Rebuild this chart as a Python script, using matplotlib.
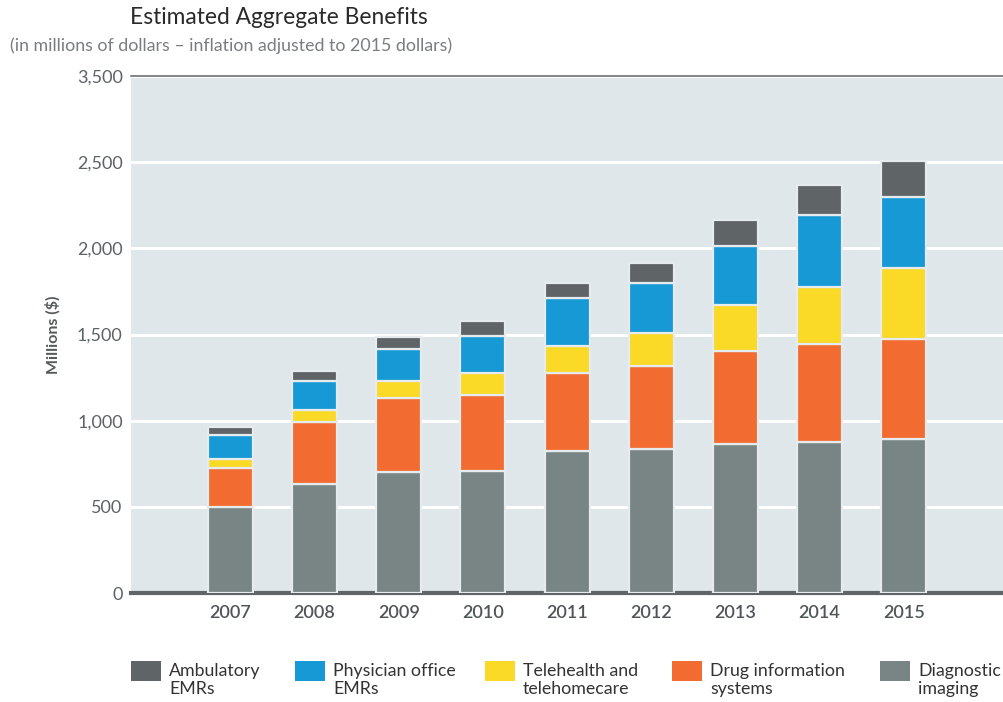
import matplotlib
matplotlib.use('Agg')
import matplotlib.pyplot as plt
from matplotlib.patches import Rectangle
import numpy as np

plt.rcParams['font.family'] = ['Lato', 'DejaVu Sans']

years = ['2007', '2008', '2009', '2010', '2011', '2012', '2013', '2014', '2015']
diagnostic = [500, 632, 700, 710, 826, 837, 864, 876, 894]
drug_info = [225, 358, 430, 441, 451, 481, 543, 570, 581]
telehealth = [52, 74, 101, 126, 155, 188, 266, 331, 413]
physician = [138, 165, 186, 217, 277, 292, 343, 415, 409]
ambulatory = [48, 62, 66, 87, 88, 115, 147, 174, 207]

series_names = ['Diagnostic\nimaging', 'Drug information\nsystems', 'Telehealth and\ntelehomecare',
                'Physician office\nEMRs', 'Ambulatory\nEMRs']
colors = ['#798584', '#f26b30', '#fbd927', '#1799d6', '#5f6466']

# y tick positions and the labels as printed on the original (no 3,000 label)
ytick_pos = [0, 500, 1000, 1500, 2000, 2500, 3000]
ytick_lab = ['0', '500', '1,000', '1,500', '2,000', '2,500', '3,500']

fig = plt.figure(figsize=(10.04, 7.02), dpi=100)
ax = fig.add_axes([131/1004, 1 - 593/702, 1 - 131/1004, (593 - 76)/702])
ax.set_facecolor('#e0e7ea')

x = np.arange(len(years))
bottom = np.zeros(len(years))
for vals, c in zip([diagnostic, drug_info, telehealth, physician, ambulatory], colors):
    ax.bar(x, vals, width=0.535, bottom=bottom, color=c, edgecolor='#e6ebed', linewidth=1.6, zorder=3)
    bottom += np.array(vals)

ax.set_ylim(0, 3000)
ax.set_xlim(-1.18, 9.19)
ax.set_yticks(ytick_pos)
ax.set_yticklabels(ytick_lab)
ax.set_xticks(x)
ax.set_xticklabels(years, fontweight='semibold')
ax.tick_params(axis='y', length=0, pad=6, labelsize=13, labelcolor='#5d6264')
ax.tick_params(axis='x', length=0, pad=9, labelsize=13, labelcolor='#505557')
ax.grid(axis='y', color='white', linewidth=2.2, zorder=1)
ax.set_axisbelow(True)

for s in ['left', 'right']:
    ax.spines[s].set_visible(False)
ax.spines['top'].set_color('#6b6f71')
ax.spines['top'].set_linewidth(1.2)
ax.spines['bottom'].set_color('#5f6466')
ax.spines['bottom'].set_linewidth(3)

ax.set_ylabel('Millions ($)', fontsize=11.5, fontweight='bold', color='#555a5c', labelpad=12)

fig.text(130/1004, 1 - 18/702, 'Estimated Aggregate Benefits', fontsize=16.4, color='#2a2a2a',
         va='center', ha='left')
fig.text(10/1004, 1 - 46/702, '(in millions of dollars \u2013 inflation adjusted to 2015 dollars)',
         fontsize=12.8, color='#7a7d7f', va='center', ha='left')

# legend, left to right
leg_x = [131, 295, 485, 672, 880]
for i, idx in enumerate([4, 3, 2, 1, 0]):
    fig.add_artist(Rectangle((leg_x[i]/1004, 1 - 681/702), 30/1004, 20/702,
                             transform=fig.transFigure, facecolor=colors[idx], edgecolor='none'))
    fig.text((leg_x[i] + 38)/1004, 1 - 680/702, series_names[idx], fontsize=12.8, color='#333333',
             va='center', ha='left', linespacing=1.15)

fig.savefig('out.png', dpi=100)
